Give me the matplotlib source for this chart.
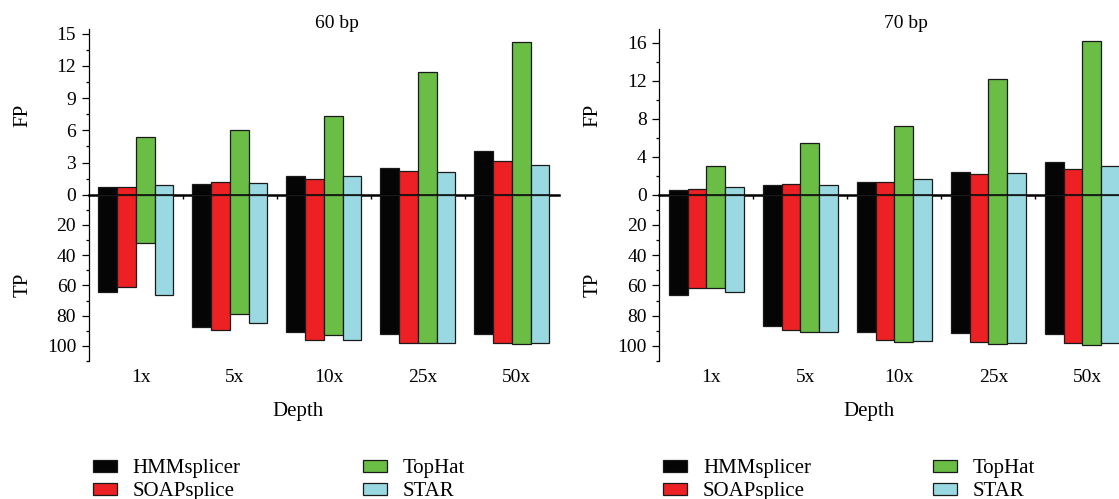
import matplotlib
matplotlib.use('Agg')
from matplotlib import pyplot as plt
from matplotlib.transforms import ScaledTranslation
from matplotlib.ticker import MultipleLocator
import numpy as np

plt.rcParams['font.family'] = ['Liberation Serif', 'DejaVu Serif']

depths = ['1x', '5x', '10x', '25x', '50x']
tools = ['HMMsplicer', 'SOAPsplice', 'TopHat', 'STAR']
colors = ['#050505', '#ED2024', '#6ABD45', '#9AD9E2']

# 60 bp panel, rows follow tools
fp_60 = [[0.72, 1.03, 1.71, 2.49, 4.04],
         [0.76, 1.18, 1.44, 2.21, 3.17],
         [5.35, 6.06, 7.33, 11.40, 14.23],
         [0.93, 1.09, 1.71, 2.09, 2.74]]
tp_60 = [[64.4, 87.2, 90.7, 92.0, 92.3],
         [61.1, 89.8, 96.4, 97.8, 98.2],
         [32.2, 78.8, 92.7, 97.8, 98.9],
         [66.4, 85.0, 96.0, 98.2, 98.2]]

# 70 bp panel
fp_70 = [[0.53, 1.05, 1.37, 2.36, 3.47],
         [0.56, 1.12, 1.30, 2.21, 2.74],
         [2.99, 5.44, 7.20, 12.21, 16.18],
         [0.78, 0.99, 1.65, 2.32, 3.05]]
tp_70 = [[66.2, 87.0, 90.7, 91.6, 92.0],
         [61.6, 89.4, 96.0, 97.5, 97.8],
         [61.8, 90.7, 97.5, 98.9, 99.3],
         [64.4, 90.7, 96.9, 98.2, 98.2]]

W, H = 1119, 499
fig = plt.figure(figsize=(W / 100, H / 100), dpi=100)

TICK_FS = 14
LABEL_FS = 15


def px_axes(x0, y_top, w, h):
    # pixel box (top-left origin) -> figure fraction
    return fig.add_axes([x0 / W, (H - y_top - h) / H, w / W, h / H])


def panel(x0, fp, tp, fp_top, fp_major, title, title_x):
    ax_fp = px_axes(x0, 29.3, 470, 165.4)
    ax_tp = px_axes(x0, 194.7, 470, 166.3)
    x = np.arange(len(depths))
    bw = 0.2
    handles = []
    for j in range(len(tools)):
        off = (j - 1.5) * bw
        b = ax_fp.bar(x + off, fp[j], bw, color=colors[j], edgecolor='#1a1a1a',
                      linewidth=0.9, label=tools[j])
        ax_tp.bar(x + off, tp[j], bw, color=colors[j], edgecolor='#1a1a1a', linewidth=0.9)
        handles.append(b)

    for ax in (ax_fp, ax_tp):
        ax.set_xlim(-0.5, 4.5)
        ax.spines['right'].set_visible(False)
        ax.spines['left'].set_linewidth(0.9)
        ax.tick_params(axis='y', which='major', direction='out', length=5, width=0.9,
                       labelsize=TICK_FS, pad=4)
        ax.tick_params(axis='y', which='minor', direction='out', length=2.5, width=0.9)
        ax.set_facecolor('none')

    ax_fp.set_ylim(0, fp_top)
    ax_fp.yaxis.set_major_locator(MultipleLocator(fp_major))
    ax_fp.yaxis.set_minor_locator(MultipleLocator(fp_major / 2))
    ax_fp.spines['top'].set_visible(False)
    ax_fp.spines['bottom'].set_linewidth(1.8)
    ax_fp.spines['bottom'].set_zorder(5)
    ax_fp.set_xticks([0.5, 1.5, 2.5, 3.5])
    ax_fp.tick_params(axis='x', direction='out', length=3, width=1, labelbottom=False)

    ax_tp.set_ylim(110, 0)
    ax_tp.set_yticks([20, 40, 60, 80, 100])
    ax_tp.set_yticks([10, 30, 50, 70, 90, 110], minor=True)
    ax_tp.spines['top'].set_visible(False)
    ax_tp.spines['bottom'].set_visible(False)
    ax_tp.set_xticks(x)
    ax_tp.set_xticklabels(depths, fontsize=TICK_FS)
    ax_tp.tick_params(axis='x', length=0, pad=6)
    shift = ScaledTranslation(5 / 100, 0, fig.dpi_scale_trans)
    for lab in ax_tp.get_xticklabels():
        lab.set_transform(lab.get_transform() + shift)

    fig.text((x0 - 66) / W, 1 - 115 / H, 'FP', rotation=90, ha='center', va='center',
             fontsize=LABEL_FS)
    fig.text((x0 - 66) / W, 1 - 285 / H, 'TP', rotation=90, ha='center', va='center',
             fontsize=LABEL_FS)
    fig.text(title_x / W, 1 - 23 / H, title, ha='center', va='center', fontsize=TICK_FS)
    fig.text((x0 + 209.6) / W, 1 - 411.7 / H, 'Depth', ha='center', va='center',
             fontsize=LABEL_FS)

    leg_kw = dict(loc='upper left', frameon=False, borderpad=0, borderaxespad=0,
                  handlelength=1.15, handleheight=0.5, handletextpad=0.75,
                  labelspacing=0.2, fontsize=LABEL_FS)
    fig.legend(handles[:2], tools[:2], bbox_to_anchor=((x0 + 4) / W, 1 - 459 / H), **leg_kw)
    fig.legend(handles[2:], tools[2:], bbox_to_anchor=((x0 + 274) / W, 1 - 459 / H), **leg_kw)


panel(88.7, fp_60, tp_60, 15.41, 3, '60 bp', 336.7)
panel(659.3, fp_70, tp_70, 17.4, 4, '70 bp', 905.7)

fig.savefig('out.png', dpi=100)
